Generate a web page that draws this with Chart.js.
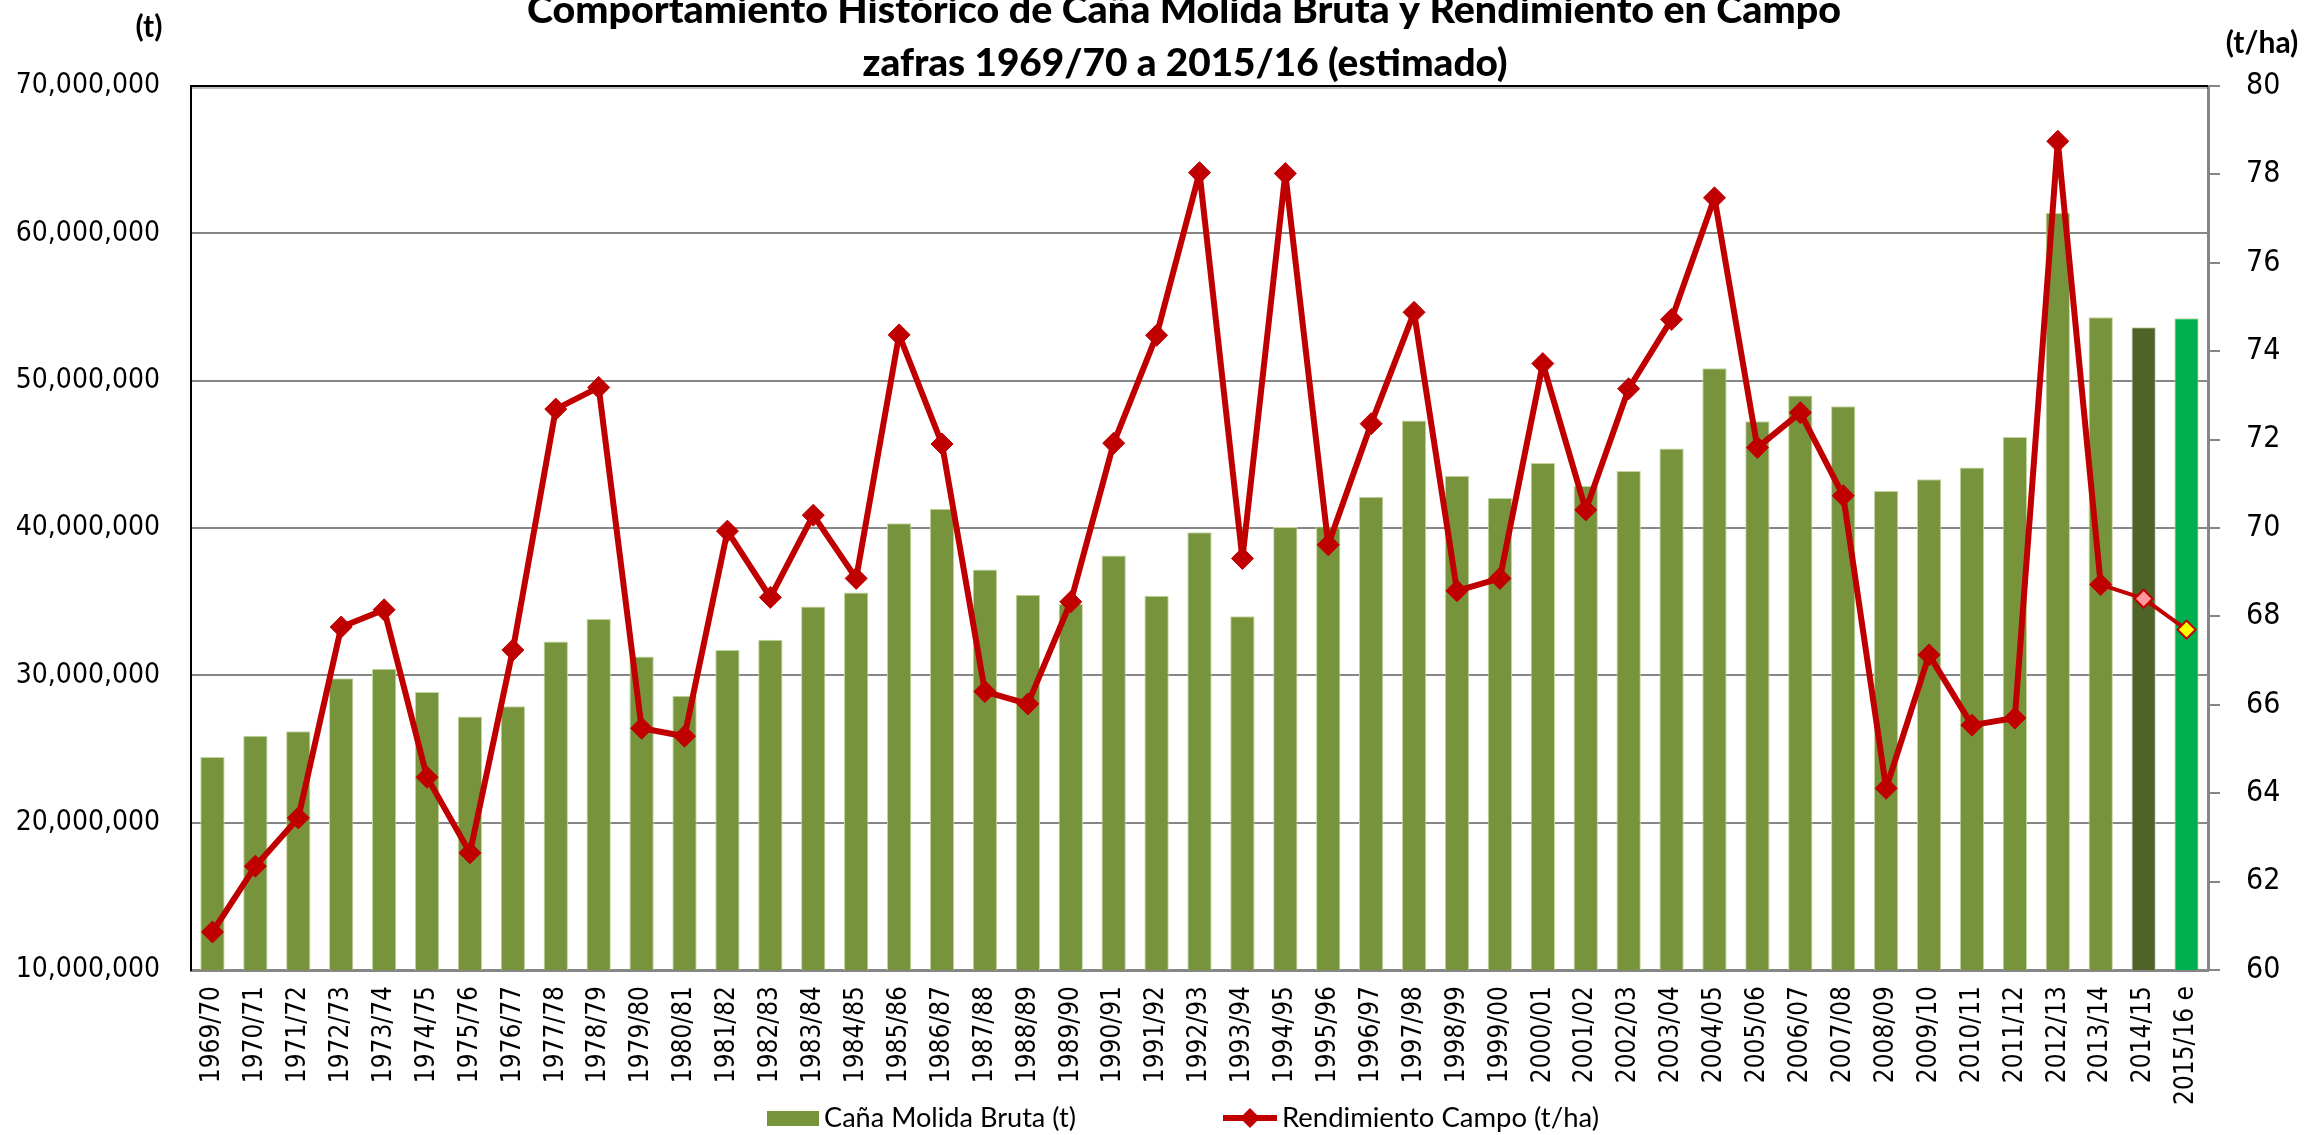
<!DOCTYPE html>
<html>
<head>
<meta charset="utf-8">
<script src="https://cdn.jsdelivr.net/npm/chart.js@4.4.1/dist/chart.umd.min.js"></script>
<style>
  body { margin: 0; background: #fff; }
  canvas { display: block; }
</style>
</head>
<body>
<canvas id="zafraChart" width="2308" height="1135"></canvas>
<script>
var zafras = ['1969/70', '1970/71', '1971/72', '1972/73', '1973/74', '1974/75', '1975/76', '1976/77',
  '1977/78', '1978/79', '1979/80', '1980/81', '1981/82', '1982/83', '1983/84', '1984/85', '1985/86',
  '1986/87', '1987/88', '1988/89', '1989/90', '1990/91', '1991/92', '1992/93', '1993/94', '1994/95',
  '1995/96', '1996/97', '1997/98', '1998/99', '1999/00', '2000/01', '2001/02', '2002/03', '2003/04',
  '2004/05', '2005/06', '2006/07', '2007/08', '2008/09', '2009/10', '2010/11', '2011/12', '2012/13',
  '2013/14', '2014/15', '2015/16 e'];

// cana molida bruta (t)
var canaMolida = [24450000, 25900000, 26200000, 29800000, 30440000, 28870000, 27200000, 27900000,
  32300000, 33830000, 31280000, 28610000, 31720000, 32410000, 34670000, 35620000, 40330000,
  41310000, 37190000, 35470000, 34850000, 38140000, 35400000, 39710000, 34010000, 40070000,
  40110000, 42120000, 47300000, 43540000, 42040000, 44420000, 42850000, 43870000, 45400000,
  50850000, 47240000, 49000000, 48270000, 42510000, 43310000, 44110000, 46170000, 61380000,
  54310000, 53620000, 54230000];

// rendimiento en campo (t/ha)
var rendimiento = [60.86, 62.35, 63.44, 67.76, 68.15, 64.36, 62.65, 67.24,
  72.69, 73.18, 65.47, 65.29, 69.93, 68.43, 70.29, 68.86, 74.37,
  71.90, 66.30, 66.02, 68.33, 71.92, 74.36, 78.04, 69.31, 78.02,
  69.62, 72.36, 74.88, 68.58, 68.86, 73.72, 70.41, 73.15, 74.72,
  77.47, 71.82, 72.61, 70.73, 64.11, 67.13, 65.54, 65.70, 78.75,
  68.72, 68.40, 67.70];

var ticksCana = [10000000, 20000000, 30000000, 40000000, 50000000, 60000000, 70000000];
var ticksRend = [60, 62, 64, 66, 68, 70, 72, 74, 76, 78, 80];

var titulo = ['Comportamiento Histórico de Caña Molida Bruta y Rendimiento en Campo',
  'zafras 1969/70 a 2015/16 (estimado)'];

var textFont = "Lato, 'Liberation Sans', sans-serif";
var tickFont = "'DejaVu Sans Condensed', 'DejaVu Sans', sans-serif";

var barColors = zafras.map(function (z, i) {
  if (i === zafras.length - 2) return '#4F6228';
  if (i === zafras.length - 1) return '#00B050';
  return '#77933C';
});
var markerFill = zafras.map(function (z, i) {
  if (i === zafras.length - 2) return '#FF9999';
  if (i === zafras.length - 1) return '#FFFF00';
  return '#C00000';
});
var markerRadius = zafras.map(function (z, i) {
  return i >= zafras.length - 2 ? 9 : 11;
});
var markerBorder = zafras.map(function (z, i) {
  return i >= zafras.length - 2 ? 2 : 1;
});

// texto ajustado a un ancho (la fuente original es mas estrecha)
function fitText(ctx, text, x, y, width, align) {
  var w = ctx.measureText(text).width;
  var s = width ? width / w : 1;
  ctx.save();
  ctx.translate(x, y);
  ctx.scale(s, 1);
  ctx.textAlign = align;
  ctx.fillText(text, 0, 0);
  ctx.restore();
}

// titulo, leyenda y borde superior
var decorPlugin = {
  id: 'decor',
  afterDraw: function (chart) {
    var ctx = chart.ctx;
    var a = chart.chartArea;
    ctx.save();
    ctx.strokeStyle = '#000';
    ctx.lineWidth = 2;
    ctx.beginPath();
    ctx.moveTo(a.left, a.top);
    ctx.lineTo(a.right, a.top);
    ctx.stroke();
    ctx.strokeStyle = 'rgba(0,0,0,0.25)';
    ctx.beginPath();
    ctx.moveTo(a.left, a.top + 2);
    ctx.lineTo(a.right, a.top + 2);
    ctx.stroke();

    ctx.fillStyle = '#000';
    ctx.textBaseline = 'alphabetic';
    ctx.font = '900 38px ' + textFont;
    fitText(ctx, titulo[0], 1184, 23, 1314, 'center');
    fitText(ctx, titulo[1], 1185, 76, 645, 'center');
    ctx.font = 'bold 30px ' + textFont;
    fitText(ctx, '(t)', 149, 37, 0, 'center');
    fitText(ctx, '(t/ha)', 2262, 53, 0, 'center');

    // leyenda
    ctx.font = '27px ' + textFont;
    ctx.fillStyle = '#77933C';
    ctx.fillRect(767, 1111, 52, 15);
    ctx.fillStyle = '#000';
    fitText(ctx, 'Caña Molida Bruta (t)', 824, 1127, 252, 'left');

    ctx.strokeStyle = '#C00000';
    ctx.lineWidth = 6;
    ctx.beginPath();
    ctx.moveTo(1223, 1118);
    ctx.lineTo(1277, 1118);
    ctx.stroke();
    ctx.fillStyle = '#C00000';
    ctx.beginPath();
    ctx.moveTo(1250, 1108);
    ctx.lineTo(1260, 1118);
    ctx.lineTo(1250, 1128);
    ctx.lineTo(1240, 1118);
    ctx.closePath();
    ctx.fill();
    ctx.fillStyle = '#000';
    fitText(ctx, 'Rendimiento Campo (t/ha)', 1282, 1127, 317, 'left');
    ctx.restore();
  }
};

var ctx = document.getElementById('zafraChart');
var zafraChart = new Chart(ctx, {
  type: 'bar',
  data: {
    labels: zafras,
    datasets: [{
      type: 'line',
      label: 'Rendimiento Campo (t/ha)',
      data: rendimiento,
      yAxisID: 'yRend',
      order: 1,
      borderColor: '#C00000',
      borderWidth: 6,
      borderJoinStyle: 'round',
      tension: 0,
      pointStyle: 'rectRot',
      pointRadius: markerRadius,
      pointBackgroundColor: markerFill,
      pointBorderColor: '#C00000',
      pointBorderWidth: markerBorder,
      segment: {
        borderWidth: function (c) { return c.p0DataIndex >= zafras.length - 3 ? 4 : 6; }
      }
    }, {
      type: 'bar',
      label: 'Caña Molida Bruta (t)',
      data: canaMolida,
      yAxisID: 'yCana',
      order: 2,
      backgroundColor: barColors,
      borderColor: '#C3D69B',
      borderWidth: 1,
      barPercentage: 0.567,
      categoryPercentage: 1
    }]
  },
  options: {
    responsive: false,
    animation: false,
    devicePixelRatio: 1,
    layout: { padding: { top: 86, left: 0, right: 0, bottom: 0 } },
    plugins: {
      legend: { display: false },
      title: { display: false },
      tooltip: { enabled: false }
    },
    scales: {
      x: {
        grid: { display: false, drawTicks: false },
        border: { color: '#868686', width: 3 },
        ticks: {
          autoSkip: false,
          maxRotation: 90,
          minRotation: 90,
          padding: 16,
          color: '#000',
          font: { family: tickFont, size: 26 }
        },
        afterFit: function (scale) { scale.height = 165; }
      },
      yCana: {
        position: 'left',
        min: 10000000,
        max: 70000000,
        afterBuildTicks: function (scale) {
          scale.ticks = ticksCana.map(function (v) { return { value: v }; });
        },
        grid: { color: '#868686', lineWidth: 2, drawTicks: false },
        border: { color: '#000', width: 2 },
        ticks: {
          padding: 31,
          color: '#000',
          font: { family: tickFont, size: 28 },
          callback: function (v) { return Number(v).toLocaleString('en-US'); }
        },
        afterFit: function (scale) { scale.width = 191; }
      },
      yRend: {
        position: 'right',
        min: 60,
        max: 80,
        afterBuildTicks: function (scale) {
          scale.ticks = ticksRend.map(function (v) { return { value: v }; });
        },
        grid: { drawOnChartArea: false, drawTicks: true, tickLength: 12, color: '#868686', lineWidth: 2 },
        border: { color: '#868686', width: 3 },
        ticks: {
          padding: 26,
          color: '#000',
          font: { family: tickFont, size: 30 }
        },
        afterFit: function (scale) { scale.width = 100; }
      }
    }
  },
  plugins: [decorPlugin]
});
</script>
</body>
</html>
